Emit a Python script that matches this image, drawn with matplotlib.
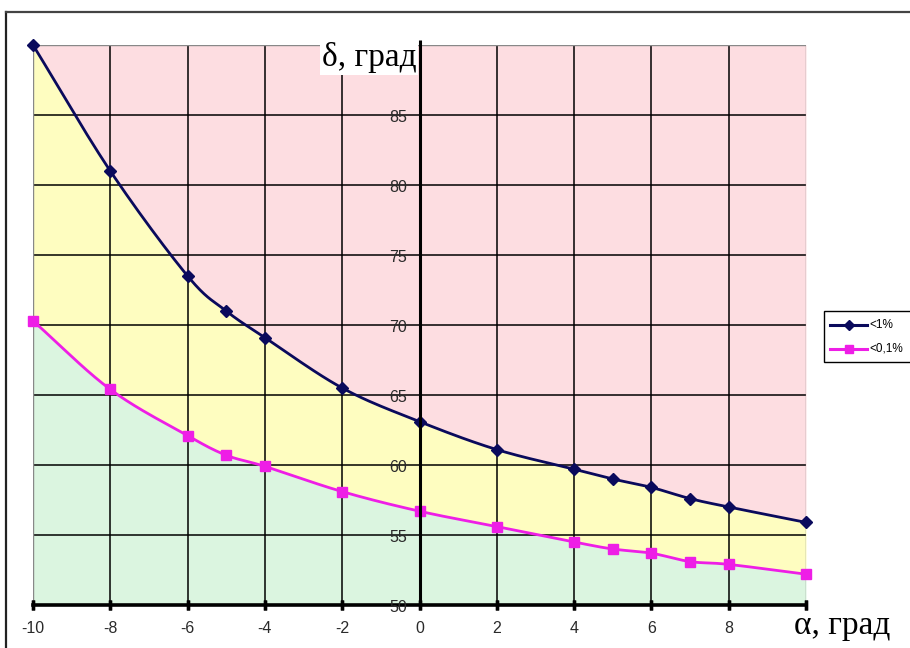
import numpy as np
import matplotlib
matplotlib.use("Agg")
import matplotlib.pyplot as plt
from matplotlib.patches import Rectangle
from matplotlib.lines import Line2D

# Angle of attack, degrees
alpha = [-10, -8, -6, -5, -4, -2, 0, 2, 4, 5, 6, 7, 8, 10]
# Limiting deflection for error below 1 %
delta_1 = [90.0, 81.0, 73.5, 71.0, 69.1, 65.5, 63.1, 61.1, 59.7, 59.0, 58.4, 57.6, 57.0, 55.9]
# Limiting deflection for error below 0.1 %
delta_01 = [70.3, 65.4, 62.1, 60.7, 59.9, 58.1, 56.7, 55.6, 54.5, 54.0, 53.7, 53.1, 52.9, 52.2]

series_labels = ["<1%", "<0,1%"]
x_ticks = [-10, -8, -6, -4, -2, 0, 2, 4, 6, 8]
y_ticks = [50, 55, 60, 65, 70, 75, 80, 85]


def smooth(x, y, n=20):
    """Catmull-Rom curve through the given points."""
    x = np.asarray(x, float)
    y = np.asarray(y, float)
    px = np.concatenate([[2 * x[0] - x[1]], x, [2 * x[-1] - x[-2]]])
    py = np.concatenate([[2 * y[0] - y[1]], y, [2 * y[-1] - y[-2]]])
    xs, ys = [], []
    t = np.linspace(0, 1, n, endpoint=False)
    for i in range(1, len(px) - 2):
        for arr, out in ((px, xs), (py, ys)):
            p0, p1, p2, p3 = arr[i - 1], arr[i], arr[i + 1], arr[i + 2]
            out.extend(0.5 * (2 * p1 + (-p0 + p2) * t
                              + (2 * p0 - 5 * p1 + 4 * p2 - p3) * t ** 2
                              + (-p0 + 3 * p1 - 3 * p2 + p3) * t ** 3))
    xs.append(x[-1])
    ys.append(y[-1])
    return np.array(xs), np.array(ys)


W, H = 910, 648
fig = plt.figure(figsize=(W / 100, H / 100), dpi=100)
fig.patch.set_facecolor("white")

# outer chart frame
fig.add_artist(Line2D([6 / W, 6 / W], [0, 1 - 12 / H], color="#222222", lw=1.6))
fig.add_artist(Line2D([6 / W, 1], [1 - 12 / H, 1 - 12 / H], color="#444444", lw=1.6))

ax = fig.add_axes([33 / W, 1 - 605 / H, (806 - 33) / W, (605 - 45) / H])
ax.set_xlim(-10, 10)
ax.set_ylim(50, 90)

sx1, sy1 = smooth(alpha, delta_1)
sx2, sy2 = smooth(alpha, delta_01)

ax.fill_between(sx1, sy1, 90, color="#FDDDE1", lw=0, zorder=0)
ax.fill_between(sx1, np.interp(sx1, sx2, sy2), sy1, color="#FEFDC0", lw=0, zorder=0)
ax.fill_between(sx2, 50, sy2, color="#DBF5E0", lw=0, zorder=0)

# grid
for xv in range(-8, 10, 2):
    if xv != 0:
        ax.axvline(xv, color="black", lw=1.1, zorder=1)
for yv in range(55, 90, 5):
    ax.axhline(yv, color="black", lw=1.1, zorder=1)
ax.axhline(90, color="#888888", lw=1.0, zorder=1)
ax.axvline(-10, color="#888888", lw=1.0, zorder=1)
ax.axvline(10, color="#888888", lw=1.0, zorder=1)

# axes lines
ax.plot([0, 0], [50, 90.35], color="black", lw=2.2, zorder=8, clip_on=False,
        solid_capstyle="butt")
ax.axhline(50, color="black", lw=2.6, zorder=3, clip_on=False)

c1 = "#0A0A5C"
c2 = "#EE1EE6"
ax.plot(sx1, sy1, color=c1, lw=2.0, zorder=4)
ax.plot(sx2, sy2, color=c2, lw=2.0, zorder=4)
ax.plot(alpha, delta_1, ls="none", marker="D", ms=6.5, color=c1, zorder=5, clip_on=False)
ax.plot(alpha, delta_01, ls="none", marker="s", ms=7.5, color=c2, zorder=5, clip_on=False)

for s in ax.spines.values():
    s.set_visible(False)
ax.set_xticks([])
ax.set_yticks([])

tick_font = dict(family="Liberation Sans", fontsize=11.5, color="#2a2a2a")
for xv in x_ticks + [10]:
    ax.plot([xv, xv], [50, 50], marker=(2, 0, 0), ms=7, mew=2.4, color="black",
            clip_on=False, zorder=6, transform=ax.transData)
for xv in x_ticks:
    ax.annotate(str(xv), (xv, 50), xytext=(0, -17), textcoords="offset points",
                ha="center", va="center", annotation_clip=False, **tick_font)
for yv in y_ticks:
    ax.annotate(str(yv), (0, yv), xytext=(-9, -1.5), textcoords="offset points",
                ha="right", va="center", annotation_clip=False, **tick_font)

serif = dict(family="Liberation Serif", fontsize=24, color="black")
ax.annotate("δ, град", (0, 90), xytext=(-2, -9), textcoords="offset points",
            ha="right", va="center", annotation_clip=False, zorder=7,
            bbox=dict(boxstyle="square,pad=0.05", fc="white", ec="none"), **serif)
ax.annotate("α, град", (10, 50), xytext=(-9, -15), textcoords="offset points",
            ha="left", va="center", annotation_clip=False, zorder=7, **serif)

# legend
lx0, ly0, lw_, lh_ = 824, 311, 100, 51
fig.add_artist(Rectangle((lx0 / W, 1 - (ly0 + lh_) / H), lw_ / W, lh_ / H,
                         transform=fig.transFigure, fc="white", ec="black", lw=1.0))
for i, (lab, col, mk, ms) in enumerate([(series_labels[0], c1, "D", 5),
                                         (series_labels[1], c2, "s", 6)]):
    yy = 1 - (325 + i * 24) / H
    fig.add_artist(Line2D([830 / W, 867 / W], [yy, yy], color=col, lw=2.2))
    fig.add_artist(Line2D([848.5 / W], [yy], color=col, marker=mk, ms=ms))
    fig.text(869 / W, yy, lab, ha="left", va="center",
             family="Liberation Sans", fontsize=8.5, color="black")

fig.savefig("out.png", dpi=100)
